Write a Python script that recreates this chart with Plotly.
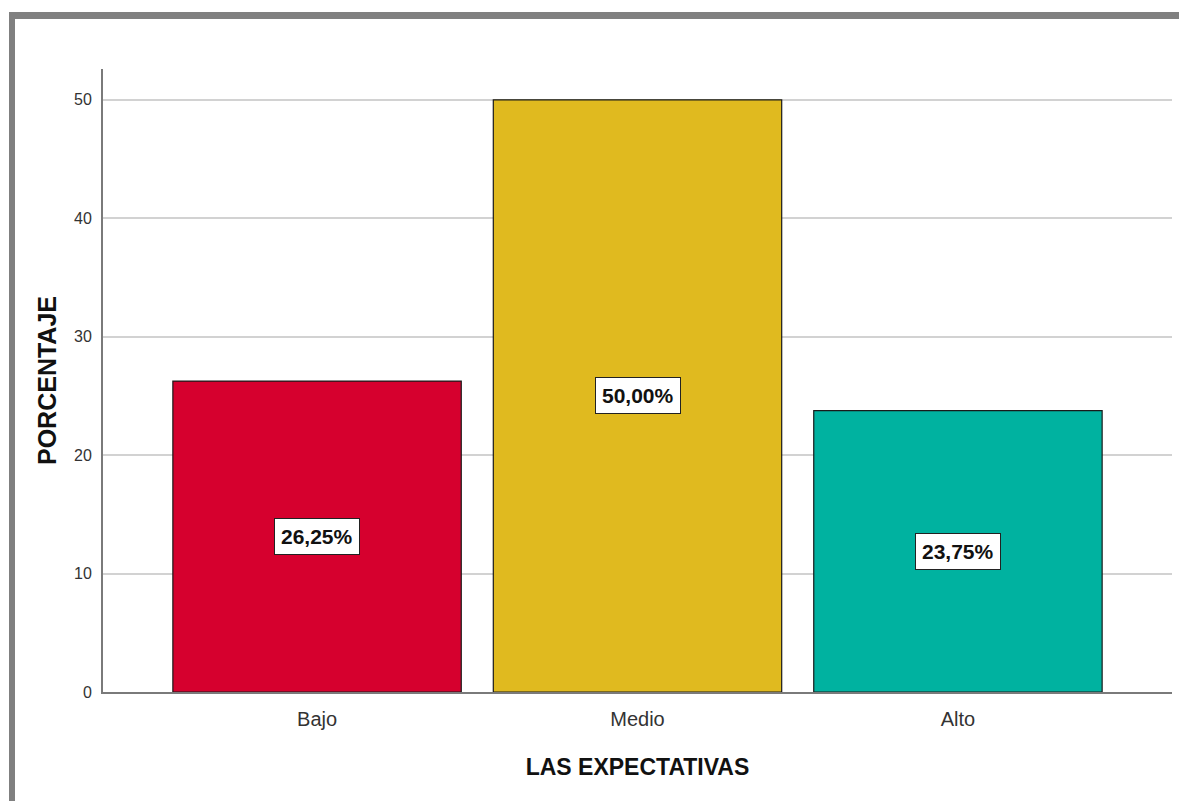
import plotly.graph_objects as go

# Distribución porcentual de las expectativas
categorias = ["Bajo", "Medio", "Alto"]
porcentajes = [26.25, 50.00, 23.75]
etiquetas = ["26,25%", "50,00%", "23,75%"]
colores = ["#D6002E", "#E0BA1F", "#00B2A0"]
ticks_y = [0, 10, 20, 30, 40, 50]

W, H = 1179, 801
L, R, T, B = 103, 7, 69, 109
pw, ph = W - L - R, H - T - B


def px(x):
    return (x - L) / pw


def py(y):
    return (H - B - y) / ph


fig = go.Figure()
fig.add_trace(go.Bar(
    x=categorias,
    y=porcentajes,
    marker=dict(color=colores, line=dict(color="#1a1a1a", width=1.2)),
    width=0.9,
    hoverinfo="skip",
))

# Etiquetas de valor en el centro de cada barra
for cat, val, txt in zip(categorias, porcentajes, etiquetas):
    fig.add_annotation(
        x=cat, y=val / 2, text=f"<b>{txt}</b>", showarrow=False,
        font=dict(family="Liberation Sans, Arial", size=21, color="#111111"),
        bgcolor="white", bordercolor="#222222", borderwidth=1, borderpad=6,
    )

# Marco gris superior e izquierdo
gris = "#808080"
fig.add_shape(type="rect", xref="paper", yref="paper",
              x0=px(9), x1=px(1179), y0=py(19), y1=py(12),
              fillcolor=gris, line=dict(width=0), layer="above")
fig.add_shape(type="rect", xref="paper", yref="paper",
              x0=px(9), x1=px(15), y0=py(801), y1=py(12),
              fillcolor=gris, line=dict(width=0), layer="above")

fig.update_layout(
    width=W, height=H,
    margin=dict(l=L, r=R, t=T, b=B),
    paper_bgcolor="white", plot_bgcolor="white",
    showlegend=False,
    font=dict(family="Liberation Sans, Arial", color="#333333"),
    xaxis=dict(
        range=[-0.668, 2.668],
        showline=True, linecolor="#7a7a7a", linewidth=2,
        showgrid=False, ticks="", ticklabelstandoff=8,
        tickfont=dict(size=20, color="#333333"),
        title=dict(text="<b>LAS EXPECTATIVAS</b>", standoff=30,
                   font=dict(size=23, color="#111111")),
    ),
    yaxis=dict(
        range=[0, 52.6],
        tickvals=ticks_y,
        showline=True, linecolor="#7a7a7a", linewidth=2,
        showgrid=True, gridcolor="#d2d2d2", gridwidth=2,
        zeroline=False, ticks="", ticklabelstandoff=6,
        tickfont=dict(size=16, color="#333333"),
        title=dict(text="<b>PORCENTAJE</b>", standoff=10,
                   font=dict(size=25, color="#111111")),
    ),
)

fig.write_html("out.html")
